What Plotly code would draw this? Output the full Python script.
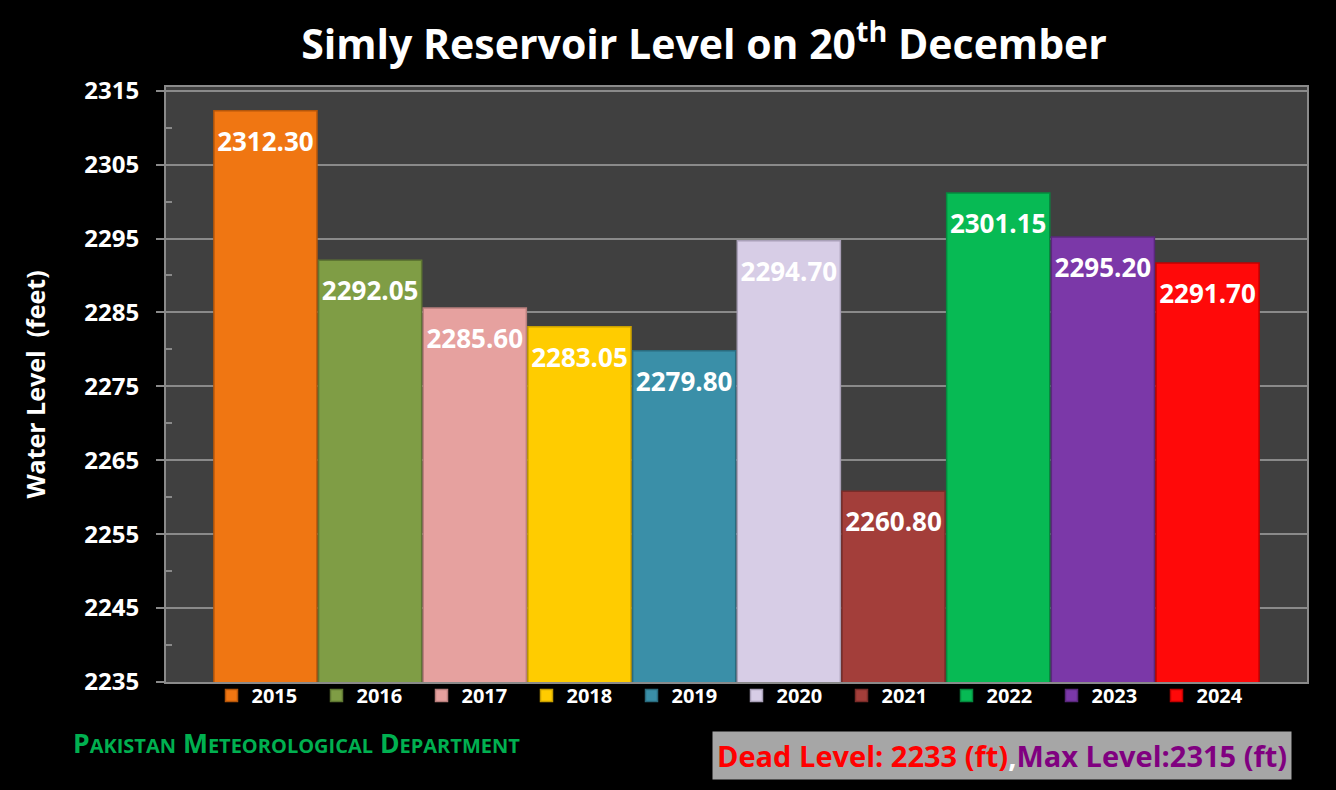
import plotly.graph_objects as go

years = ["2015", "2016", "2017", "2018", "2019", "2020", "2021", "2022", "2023", "2024"]
levels = [2312.30, 2292.05, 2285.60, 2283.05, 2279.80, 2294.70, 2260.80, 2301.15, 2295.20, 2291.70]
colors = ["#F07612", "#7F9D45", "#E6A19F", "#FFCC00", "#3A8FA8",
          "#D7CDE6", "#A33E3A", "#07BA54", "#7B38A8", "#FF0909"]
edge_colors = ["#B5560A", "#5E7632", "#B97F7D", "#C9A000", "#2A6B7E",
               "#A9A0B8", "#7A2C29", "#05893E", "#5A287C", "#C00000"]
labels = [f"{v:.2f}" for v in levels]
y_ticks = list(range(2235, 2316, 10))

FONT = "Open Sans"
fig = go.Figure()

for i, (yr, v, c, ec) in enumerate(zip(years, levels, colors, edge_colors)):
    fig.add_trace(go.Bar(
        x=[i], y=[v], name=yr,
        marker=dict(color=c, line=dict(color=ec, width=1.5)),
        width=0.985, showlegend=True, hoverinfo="y+name",
    ))

fig.add_trace(go.Scatter(
    x=list(range(len(years))), y=levels, text=labels,
    mode="markers+text", textposition="bottom center",
    marker=dict(size=31, color="rgba(0,0,0,0)"),
    textfont=dict(family=FONT, size=26, color="white", weight="bold"),
    showlegend=False, hoverinfo="skip",
))

grid_c = "#8A8A8A"
fig.update_layout(
    width=1336, height=790,
    paper_bgcolor="black", plot_bgcolor="#404040",
    margin=dict(l=166, r=29, t=87, b=108),
    barmode="overlay",
    title=dict(
        text="<b>Simly Reservoir Level on 20<sup>th</sup> December</b>",
        x=0.527, xanchor="center", y=0.943, yanchor="middle",
        font=dict(family=FONT, size=41, color="white"),
    ),
    xaxis=dict(
        range=[-0.95, 9.95], showticklabels=False, ticks="",
        showgrid=False, zeroline=False,
        showline=True, linecolor=grid_c, linewidth=2, mirror=True,
    ),
    yaxis=dict(
        range=[2235, 2315.5], tickvals=y_ticks,
        ticks="outside", ticklen=8, tickcolor=grid_c, tickwidth=2,
        tickfont=dict(family=FONT, size=24, color="white", weight="bold"),
        ticklabelstandoff=12,
        showgrid=True, gridcolor=grid_c, gridwidth=2, zeroline=False,
        showline=True, linecolor=grid_c, linewidth=2, mirror=True,
        minor=dict(ticks="inside", ticklen=6, tickcolor=grid_c, tickwidth=2,
                   tick0=2240, dtick=10, showgrid=False),
        title=dict(text="<b>Water Level  (feet)</b>", standoff=32,
                   font=dict(family=FONT, size=25, color="white")),
    ),
    legend=dict(
        orientation="h", x=0.5, xanchor="center", y=0.01, yanchor="top",
        font=dict(family=FONT, size=20, color="white", weight="bold"),
        bgcolor="rgba(0,0,0,0)", entrywidth=60, itemwidth=30,
        traceorder="normal",
    ),
    annotations=[
        dict(
            text=("<b>P<span style='font-size:20px'>AKISTAN</span> "
                  "M<span style='font-size:20px'>ETEOROLOGICAL</span> "
                  "D<span style='font-size:20px'>EPARTMENT</span></b>"),
            xref="paper", yref="paper", x=-0.083, y=-0.103,
            xanchor="left", yanchor="middle", showarrow=False,
            font=dict(family=FONT, size=26.5, color="#00B050"),
        ),
        dict(
            text=("<b><span style='color:#FF0000'>Dead Level: 2233 (ft)</span>"
                  "<span style='color:white'>,</span>"
                  "<span style='color:#800080'>Max Level:2315 (ft)</span></b>"),
            xref="paper", yref="paper", x=0.987, y=-0.123,
            xanchor="right", yanchor="middle", showarrow=False,
            font=dict(family=FONT, size=29), bgcolor="#A6A6A6",
            borderpad=4,
        ),
    ],
)

fig.write_html("out.html", config={"displayModeBar": False},
               post_script="document.body.style.margin='0';")
